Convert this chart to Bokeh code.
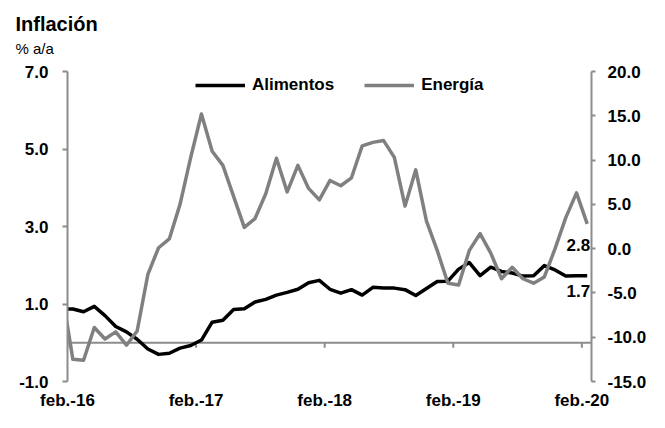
import numpy as np
from bokeh.plotting import figure
from bokeh.models import (Range1d, LinearAxis, FixedTicker, Span, Title, Legend,
                          LegendItem, NumeralTickFormatter)
from bokeh.embed import file_html
from bokeh.resources import INLINE
from bokeh.core.properties import value

# ---------------- data ----------------
month_abbr = ["ene.", "feb.", "mar.", "abr.", "may.", "jun.", "jul.", "ago.", "sep.", "oct.", "nov.", "dic."]
months = [f"{month_abbr[i % 12]}-{16 + i // 12}" for i in range(50)]  # ene.-16 ... feb.-20

alimentos = [0.87, 0.87, 0.80, 0.94, 0.70, 0.42, 0.28, 0.09, -0.16, -0.30,
             -0.27, -0.14, -0.07, 0.07, 0.53, 0.58, 0.86, 0.88, 1.05, 1.12,
             1.23, 1.30, 1.38, 1.55, 1.61, 1.38, 1.28, 1.37, 1.23, 1.43,
             1.41, 1.41, 1.37, 1.22, 1.40, 1.58, 1.59, 1.90, 2.07, 1.73,
             1.95, 1.84, 1.80, 1.72, 1.73, 1.99, 1.88, 1.72, 1.73, 1.73]

energia = [-5.0, -12.5, -12.6, -8.9, -10.2, -9.4, -10.9, -9.3, -2.9, 0.1,
           1.1, 5.0, 10.3, 15.2, 11.0, 9.4, 5.9, 2.4, 3.4, 6.2,
           10.2, 6.4, 9.4, 6.8, 5.5, 7.7, 7.1, 8.0, 11.6, 12.0,
           12.2, 10.3, 4.8, 8.9, 3.1, -0.2, -3.9, -4.1, -0.2, 1.7,
           -0.5, -3.4, -2.1, -3.4, -3.9, -3.2, 0.0, 3.5, 6.3, 2.8]

tick_labels = ["feb.-16", "feb.-17", "feb.-18", "feb.-19", "feb.-20"]
left_ticks = [-1, 1, 3, 5, 7]
right_ticks = [-15, -10, -5, 0, 5, 10, 15, 20]

# ---------------- layout ----------------
FONT = "Liberation Sans"
AXIS_GREY = "#8c8c8c"
LINE_GREY = "#808080"

# month i spans [i-1, i]; point drawn mid-month, tick at the month start
x_pos = np.arange(len(months)) - 0.5
tick_pos = [months.index(t) - 1 for t in tick_labels]

p = figure(width=649, height=412, x_range=Range1d(0, 48.9), y_range=Range1d(-1, 7),
           output_backend="svg", toolbar_location=None,
           min_border_left=67, min_border_right=56, min_border_top=71, min_border_bottom=29)
p.extra_y_ranges = {"right": Range1d(-15, 20)}
p.outline_line_color = None
p.xgrid.visible = False
p.ygrid.visible = False
p.background_fill_color = "white"

# titles
p.title.text = "Inflación"
p.title.align = "left"
p.title.offset = -52
p.title.standoff = -23
p.title.text_font = FONT
p.title.text_font_style = "bold"
p.title.text_font_size = "20px"
p.title.text_color = "black"
p.add_layout(Title(text="% a/a", align="left", offset=-52, standoff=29,
                   text_font=FONT, text_font_style="normal", text_font_size="15px",
                   text_color="black"), "above")

right_axis = LinearAxis(y_range_name="right")
p.add_layout(right_axis, "right")

p.yaxis[0].ticker = FixedTicker(ticks=left_ticks)
right_axis.ticker = FixedTicker(ticks=right_ticks)
for ax in (p.yaxis[0], right_axis):
    ax.formatter = NumeralTickFormatter(format="0.0")
    ax.axis_line_color = AXIS_GREY
    ax.axis_line_width = 2
    ax.major_tick_line_color = AXIS_GREY
    ax.major_tick_line_width = 2
    ax.major_tick_in = 0
    ax.major_tick_out = 5
    ax.minor_tick_line_color = None
    ax.major_label_text_font = FONT
    ax.major_label_text_font_style = "bold"
    ax.major_label_text_font_size = "17px"
    ax.major_label_text_color = "black"
p.yaxis[0].major_label_standoff = 14
right_axis.major_tick_out = 4
right_axis.major_label_standoff = 12

xa = p.xaxis[0]
xa.ticker = FixedTicker(ticks=tick_pos)
xa.major_label_overrides = {tp: lbl for tp, lbl in zip(tick_pos, tick_labels)}
xa.axis_line_color = None
xa.major_tick_line_color = None
xa.minor_tick_line_color = None
xa.major_tick_out = 0
xa.major_tick_in = 0
xa.major_label_standoff = 9
xa.major_label_text_font = FONT
xa.major_label_text_font_style = "bold"
xa.major_label_text_font_size = "17px"
xa.major_label_text_color = "black"

# zero line with small tick marks
p.add_layout(Span(location=0, dimension="width", line_color=AXIS_GREY, line_width=2, level="underlay"))
p.segment(x0=tick_pos, y0=[0] * len(tick_pos), x1=tick_pos, y1=[-0.13] * len(tick_pos),
          line_color=AXIS_GREY, line_width=2, level="underlay")

r_ali = p.line(x_pos, alimentos, line_color="black", line_width=3.5, line_join="round")
r_ene = p.line(x_pos, energia, y_range_name="right", line_color=LINE_GREY, line_width=3.5,
               line_join="round")

# end-of-series labels
p.text(x=[x_pos[-1]], y=[energia[-1]], text=[f"{energia[-1]:.1f}"], y_range_name="right",
       text_align="right", text_baseline="middle", x_offset=3, y_offset=21,
       text_font=value(FONT), text_font_style="bold", text_font_size="17px", text_color="black")
p.text(x=[x_pos[-1]], y=[alimentos[-1]], text=[f"{alimentos[-1]:.1f}"],
       text_align="right", text_baseline="middle", x_offset=3, y_offset=15,
       text_font=value(FONT), text_font_style="bold", text_font_size="17px", text_color="black")

legend = Legend(items=[LegendItem(label="Alimentos", renderers=[r_ali]),
                       LegendItem(label="Energía", renderers=[r_ene])],
                orientation="horizontal", location=(128, 286),
                glyph_width=50, glyph_height=20, label_height=20, label_standoff=7, spacing=30,
                padding=0, margin=0, border_line_color=None, background_fill_alpha=0,
                label_text_font=FONT, label_text_font_style="bold", label_text_font_size="17px",
                label_text_color="black")
p.add_layout(legend)

open("out.html", "w").write(file_html(p, INLINE))
